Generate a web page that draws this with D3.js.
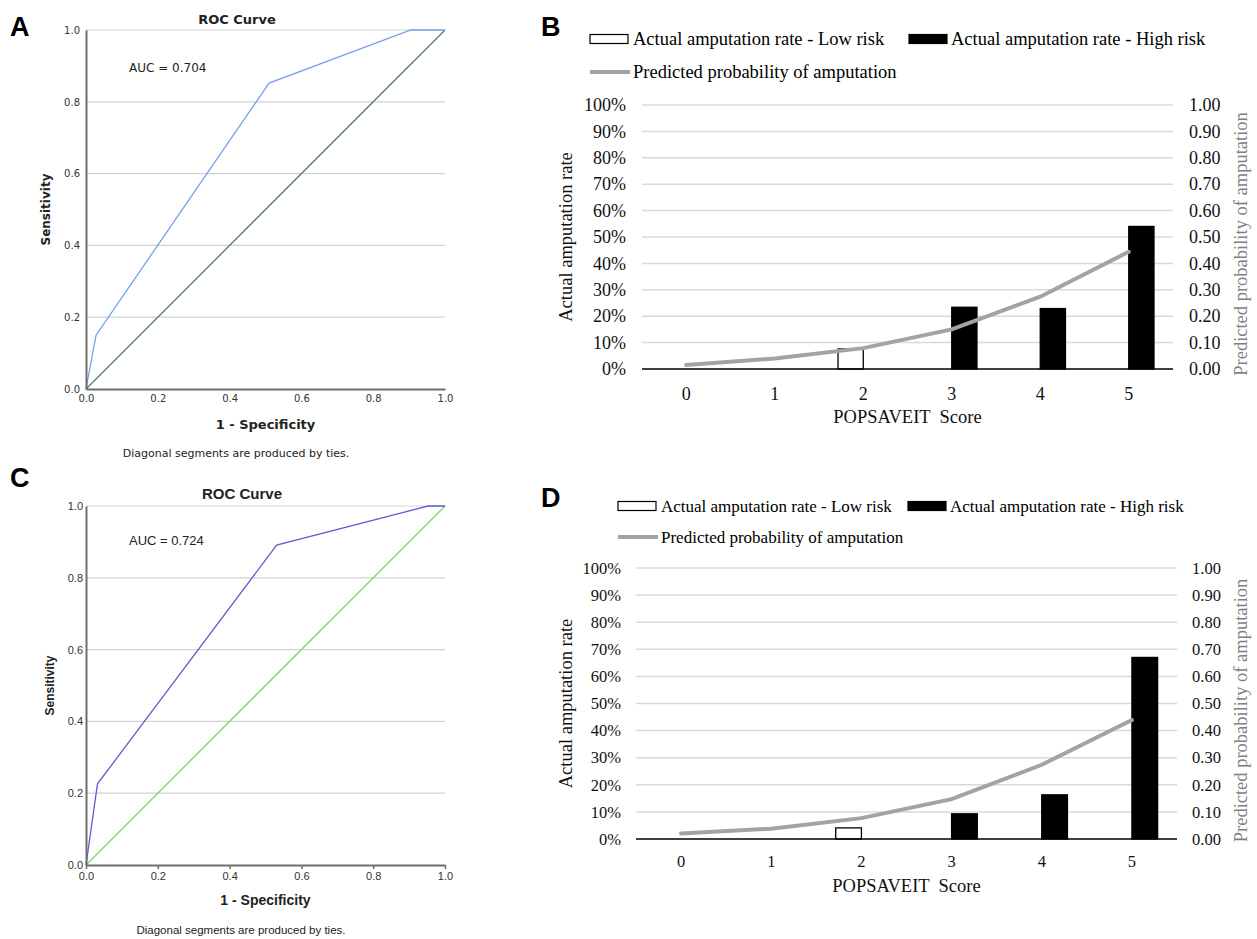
<!DOCTYPE html>
<html>
<head>
<meta charset="utf-8">
<title>POPSAVEIT ROC and calibration</title>
<script src="https://cdn.jsdelivr.net/npm/d3@7"></script>
<style>
body{margin:0;background:#fff;}
svg{display:block;}
</style>
</head>
<body>
<svg id="fig" width="1257" height="939"></svg>
<script>
// ROC points: 1 - specificity / sensitivity
var fprA = [0, 0.028, 0.51, 0.905, 1];
var tprA = [0, 0.15, 0.852, 1, 1];
var fprC = [0, 0.032, 0.531, 0.953, 1];
var tprC = [0, 0.226, 0.891, 1, 1];
var rocTicks = [0, 0.2, 0.4, 0.6, 0.8, 1.0];

// calibration by score
var scores = ["0", "1", "2", "3", "4", "5"];
var lowRiskB  = [0, 0, 0.076, null, null, null];
var highRiskB = [null, null, null, 0.234, 0.229, 0.540];
var predB     = [0.015, 0.040, 0.079, 0.150, 0.274, 0.444];
var lowRiskD  = [0, 0, 0.041, null, null, null];
var highRiskD = [null, null, null, 0.093, 0.163, 0.670];
var predD     = [0.020, 0.038, 0.077, 0.147, 0.274, 0.439];
var pctTicks  = [0, 0.1, 0.2, 0.3, 0.4, 0.5, 0.6, 0.7, 0.8, 0.9, 1.0];
var legendLabels = ["Actual amputation rate - Low risk", "Actual amputation rate - High risk", "Predicted probability of amputation"];

var svg = d3.select("#fig");
svg.append("rect").attr("width", 1257).attr("height", 939).attr("fill", "#fff");

//panel letters
[["A", 10, 36], ["B", 541, 36], ["C", 10, 487], ["D", 541, 507]].forEach(function(p){
	svg.append("text")
		.attr("x", p[1]).attr("y", p[2])
		.attr("font-family", "'Liberation Sans', Arial, sans-serif")
		.attr("font-weight", "bold").attr("font-size", 27)
		.text(p[0]);
});

//ROC panel
function roc(o){
	var x = d3.scaleLinear().domain([0, 1]).range([o.x0, o.x1]);
	var y = d3.scaleLinear().domain([0, 1]).range([o.yb, o.yt]);
	var g = svg.append("g").attr("font-family", o.font);

	g.selectAll("line.grid").data(rocTicks.slice(1)).enter().append("line")
		.attr("class", "grid")
		.attr("x1", o.x0).attr("x2", o.x1)
		.attr("y1", function(d){ return y(d); }).attr("y2", function(d){ return y(d); })
		.attr("stroke", "#d3d3d3").attr("stroke-width", 1.2);

	var line = d3.line().x(function(d){ return x(d[0]); }).y(function(d){ return y(d[1]); });
	g.append("path").datum([[0, 0], [1, 1]]).attr("d", line)
		.attr("fill", "none").attr("stroke", o.diag).attr("stroke-width", 1.3);
	g.append("path").datum(d3.zip(o.fpr, o.tpr)).attr("d", line)
		.attr("fill", "none").attr("stroke", o.curve).attr("stroke-width", 1.3);

	var xa = g.append("g").attr("transform", "translate(0," + o.yb + ")")
		.call(d3.axisBottom(x).tickValues(rocTicks).tickFormat(d3.format(".1f"))
			.tickSize(o.tick).tickSizeOuter(0).tickPadding(o.tick ? 3 : 6));
	var ya = g.append("g").attr("transform", "translate(" + o.x0 + ",0)")
		.call(d3.axisLeft(y).tickValues(rocTicks).tickFormat(d3.format(".1f"))
			.tickSize(0).tickPadding(o.padY));
	[xa, ya].forEach(function(a){
		a.select(".domain").attr("stroke", "#6e6e6e").attr("stroke-width", 2);
		a.selectAll(".tick line").attr("stroke", "#6e6e6e").attr("stroke-width", 1.5);
		a.selectAll("text").attr("font-family", o.font).attr("font-size", o.tickFs).attr("fill", "#333");
	});

	g.append("text").attr("x", o.titleX).attr("y", o.titleY).attr("text-anchor", "middle")
		.attr("font-weight", "bold").attr("font-size", o.titleFs).attr("fill", "#222").text("ROC Curve");
	g.append("text").attr("x", o.x0 + 43).attr("y", o.aucY)
		.attr("font-size", o.aucFs).attr("fill", "#222").text(o.auc);
	g.append("text").attr("x", (o.x0 + o.x1) / 2).attr("y", o.xlabY).attr("text-anchor", "middle")
		.attr("font-weight", "bold").attr("font-size", o.labFs).attr("fill", "#222").text("1 - Specificity");
	g.append("text").attr("transform", "translate(" + o.ylabX + "," + ((o.yb + o.yt) / 2) + ") rotate(-90)")
		.attr("text-anchor", "middle").attr("font-weight", "bold").attr("font-size", o.ylabFs)
		.attr("fill", "#222").text("Sensitivity");
	g.append("text").attr("x", o.noteX).attr("y", o.noteY).attr("text-anchor", "middle")
		.attr("font-size", o.noteFs).attr("fill", "#222").text("Diagonal segments are produced by ties.");
}

//bar + line panel
function calib(o){
	var x0 = d3.scaleBand().domain(scores).range([o.x0, o.x1]);
	var bw = x0.bandwidth();
	var x1 = d3.scaleBand().domain(["low", "high"]).range([bw * 0.215, bw * 0.785]);
	var yL = d3.scaleLinear().domain([0, 1]).range([o.yb, o.yt]);
	var yR = d3.scaleLinear().domain([0, 1]).range([o.yb, o.yt]);
	var serif = "'Liberation Serif', 'Times New Roman', serif";
	var g = svg.append("g").attr("font-family", serif);

	g.selectAll("line.grid").data(pctTicks.slice(1)).enter().append("line")
		.attr("x1", o.x0).attr("x2", o.x1)
		.attr("y1", function(d){ return yL(d); }).attr("y2", function(d){ return yL(d); })
		.attr("stroke", "#d9d9d9").attr("stroke-width", 1.5);

	var bars = [];
	scores.forEach(function(s, i){
		if (o.low[i]) bars.push({s: s, k: "low", v: o.low[i]});
		if (o.high[i]) bars.push({s: s, k: "high", v: o.high[i]});
	});
	g.selectAll("rect.bar").data(bars).enter().append("rect")
		.attr("x", function(d){ return x0(d.s) + x1(d.k); })
		.attr("width", x1.bandwidth())
		.attr("y", function(d){ return yL(d.v); })
		.attr("height", function(d){ return yL(0) - yL(d.v); })
		.attr("fill", function(d){ return d.k == "low" ? "#fff" : "#000"; })
		.attr("stroke", "#000").attr("stroke-width", 1.3);

	g.append("line").attr("x1", o.x0).attr("x2", o.x1).attr("y1", yL(0)).attr("y2", yL(0))
		.attr("stroke", "#000").attr("stroke-width", 1.6);

	g.append("path").datum(o.pred)
		.attr("d", d3.line().x(function(d, i){ return x0(scores[i]) + bw / 2; }).y(function(d){ return yR(d); }))
		.attr("fill", "none").attr("stroke", "#a3a3a3").attr("stroke-width", 4).attr("stroke-linecap", "round");

	var la = g.append("g").attr("transform", "translate(" + o.x0 + ",0)")
		.call(d3.axisLeft(yL).tickValues(pctTicks).tickFormat(d3.format(".0%")).tickSize(0).tickPadding(o.pad));
	var ra = g.append("g").attr("transform", "translate(" + o.x1 + ",0)")
		.call(d3.axisRight(yR).tickValues(pctTicks).tickFormat(d3.format(".2f")).tickSize(0).tickPadding(o.pad));
	var ba = g.append("g").attr("transform", "translate(0," + o.yb + ")")
		.call(d3.axisBottom(x0).tickSize(0).tickPadding(o.padX));
	[la, ra, ba].forEach(function(a){
		a.select(".domain").remove();
		a.selectAll("text").attr("font-family", serif).attr("font-size", o.fs).attr("fill", "#111");
	});

	g.append("text").attr("x", (o.x0 + o.x1) / 2).attr("y", o.xlabY).attr("text-anchor", "middle")
		.attr("font-size", o.titleFs).style("white-space", "pre").attr("fill", "#111").text("POPSAVEIT  Score");
	g.append("text").attr("transform", "translate(572," + ((o.yb + o.yt) / 2) + ") rotate(-90)")
		.attr("text-anchor", "middle").attr("font-size", o.titleFs).attr("fill", "#111").text("Actual amputation rate");
	g.append("text").attr("transform", "translate(1247," + ((o.yb + o.yt) / 2 + 7) + ") rotate(-90)")
		.attr("text-anchor", "middle").attr("font-size", o.titleFs).attr("fill", "#7f7f7f").text("Predicted probability of amputation");

	//legend
	var lg = g.append("g").attr("font-size", o.legFs);
	lg.append("rect").attr("x", o.legX).attr("y", o.legY - 4.5).attr("width", 38).attr("height", 9)
		.attr("fill", "#fff").attr("stroke", "#000").attr("stroke-width", 1.2);
	lg.append("text").attr("x", o.legX + 43).attr("y", o.legY).attr("dy", "0.35em").text(legendLabels[0]);
	lg.append("rect").attr("x", o.legX2).attr("y", o.legY - 4.5).attr("width", 38).attr("height", 9)
		.attr("fill", "#000").attr("stroke", "#000").attr("stroke-width", 1.2);
	lg.append("text").attr("x", o.legX2 + 42).attr("y", o.legY).attr("dy", "0.35em").text(legendLabels[1]);
	lg.append("line").attr("x1", o.legX).attr("x2", o.legX + 40).attr("y1", o.legY2).attr("y2", o.legY2)
		.attr("stroke", "#a3a3a3").attr("stroke-width", 4);
	lg.append("text").attr("x", o.legX + 43).attr("y", o.legY2).attr("dy", "0.35em").text(legendLabels[2]);
}

roc({x0: 86, x1: 445, yb: 389, yt: 30, fpr: fprA, tpr: tprA, auc: "AUC = 0.704",
	font: "'DejaVu Sans', Verdana, sans-serif", curve: "#74a0ea", diag: "#4f7d6c",
	tick: 0, padY: 6, tickFs: 10, titleX: 237, titleY: 24, titleFs: 13, aucY: 72, aucFs: 12,
	xlabY: 429, labFs: 13, ylabX: 50, ylabFs: 12, noteX: 236, noteY: 457, noteFs: 11});
roc({x0: 86, x1: 445, yb: 865, yt: 506, fpr: fprC, tpr: tprC, auc: "AUC = 0.724",
	font: "'Liberation Sans', Arial, sans-serif", curve: "#5b5fcb", diag: "#7fd06c",
	tick: 4, padY: 3, tickFs: 11, titleX: 242, titleY: 499, titleFs: 15, aucY: 545, aucFs: 13,
	xlabY: 905, labFs: 14, ylabX: 54, ylabFs: 12, noteX: 241, noteY: 934, noteFs: 11.5});

calib({x0: 642, x1: 1173, yb: 369, yt: 105, low: lowRiskB, high: highRiskB, pred: predB,
	pad: 16, padX: 18, fs: 18, titleFs: 18.5, xlabY: 423, legFs: 18.5, legX: 590, legX2: 909, legY: 39, legY2: 72});
calib({x0: 636, x1: 1177, yb: 839, yt: 568, low: lowRiskD, high: highRiskD, pred: predD,
	pad: 15, padX: 16, fs: 16.5, titleFs: 18.5, xlabY: 892, legFs: 17, legX: 618, legX2: 908, legY: 506, legY2: 537});
</script>
</body>
</html>
